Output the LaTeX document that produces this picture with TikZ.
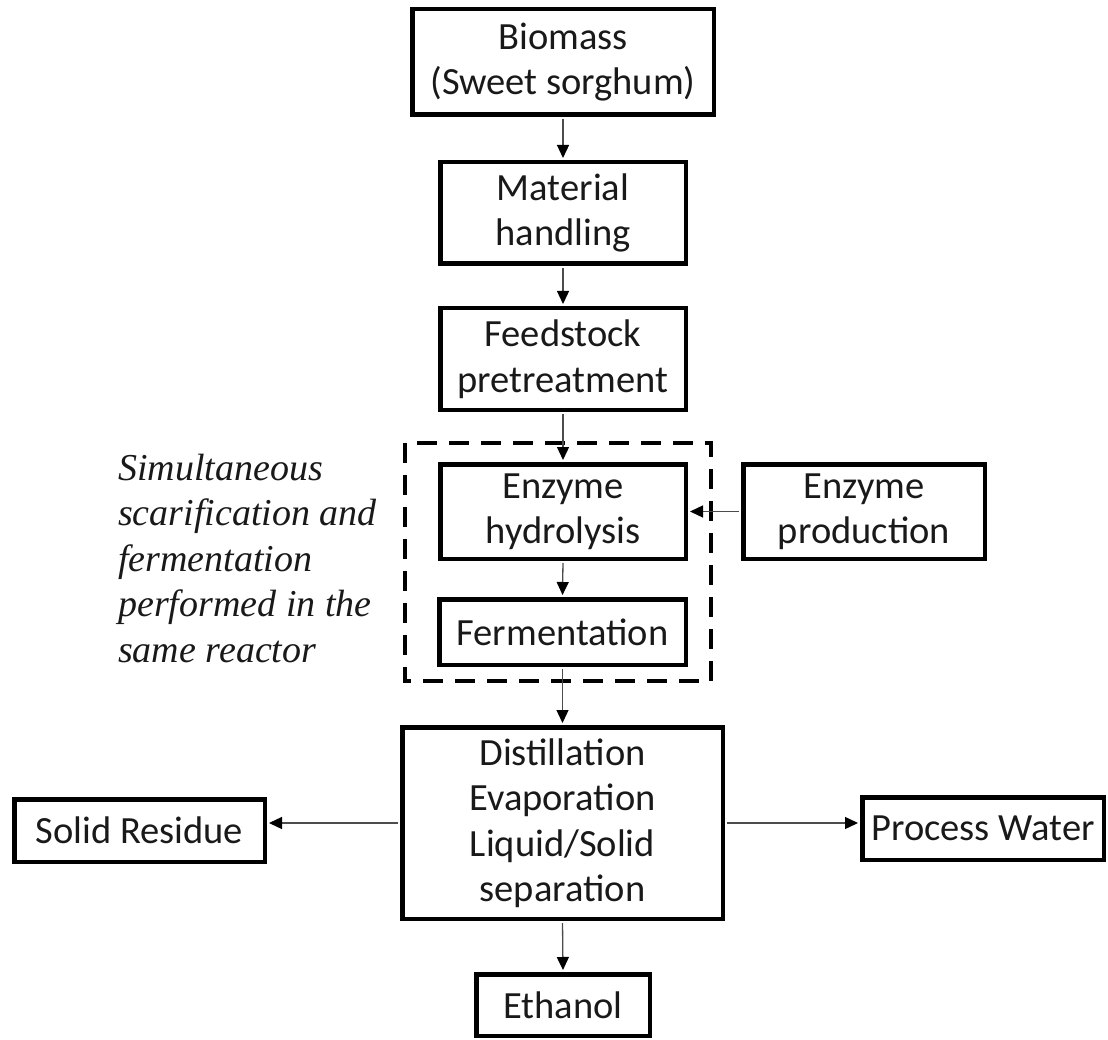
\documentclass[tikz,border=0pt]{standalone}
\usepackage{fontspec}
\setmainfont{Carlito}
\newfontfamily\noteserif{Liberation Serif}
\usetikzlibrary{arrows.meta}
\begin{document}
\begin{tikzpicture}[x=1pt,y=-1pt,
  box/.style={draw=black, line width=4.5pt, inner sep=0pt, align=center,
    font=\fontsize{38.5pt}{45.5pt}\selectfont, text=black!90},
  flow/.style={draw=black!70, line width=1.3pt, shorten >=2pt, shorten <=2pt,
    -{Triangle[length=13pt,width=12pt,fill=black,color=black]}},
  dashbox/.style={draw=black, line width=4.5pt, dash pattern=on 20pt off 12pt},
  notetext/.style={anchor=base west, align=left, inner sep=0pt,
    font=\noteserif\itshape\fontsize{38pt}{45.5pt}\selectfont, text=black!90}
]
\useasboundingbox (0,0) rectangle (1108,1040);

\node[box, minimum width=301.5pt, minimum height=105.5pt] (bio) at (563,62) {Biomass\\(Sweet sorghum)};
\node[box, minimum width=245.5pt, minimum height=101.5pt] (mat) at (563,213) {Material\\handling};
\node[box, minimum width=245.5pt, minimum height=101.5pt] (feed) at (563,359) {Feedstock\\pretreatment};
\node[box, minimum width=245.5pt, minimum height=94.5pt] (hyd) at (563,511.5) {Enzyme\\hydrolysis};
\node[box, minimum width=246.5pt, minimum height=65.5pt] (ferm) at (562.5,632) {Fermentation};
\node[box, minimum width=241.5pt, minimum height=94.5pt] (enzp) at (864,511.5) {Enzyme\\production};
\node[box, minimum width=320.5pt, minimum height=191.5pt] (dist) at (562.5,823) {Distillation\\Evaporation\\Liquid/Solid\\separation};
\node[box, minimum width=250.5pt, minimum height=62.5pt] (solid) at (139.5,830.5) {Solid Residue};
\node[box, minimum width=241.5pt, minimum height=62.5pt] (water) at (983,828.5) {Process Water};
\node[box, minimum width=173.5pt, minimum height=61.5pt] (eth) at (563,1005) {Ethanol};

\draw[dashbox] (405,443) rectangle (711,681);

\node[notetext] (note) at (118,662) {Simultaneous\\scarification and\\fermentation\\performed in the\\same reactor};

\draw[flow] (bio.south) -- (mat.north);
\draw[flow] (mat.south) -- (feed.north);
\draw[flow] (feed.south) -- (hyd.north);
\draw[flow] (hyd.south) -- (ferm.north);
\draw[flow] (ferm.south) -- (dist.north);
\draw[flow] (enzp.west) -- (hyd.east);
\draw[flow] (dist.west) -- (dist.west -| solid.east);
\draw[flow] (dist.east) -- (dist.east -| water.west);
\draw[flow] (dist.south) -- (eth.north);
\end{tikzpicture}
\end{document}
